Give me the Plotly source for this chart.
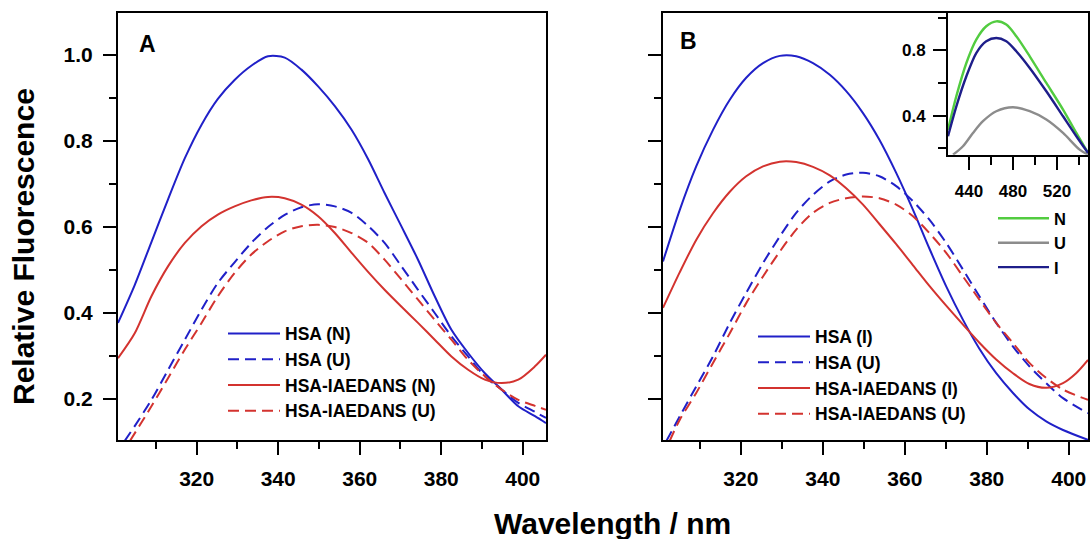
import plotly.graph_objects as go

W, H = 1090, 539
FONT = "Liberation Sans, Arial, sans-serif"

# ---------------- data ----------------
# Panel A
wl_A = [300.7, 304.8, 308.9, 313.0, 317.1, 321.2, 325.2, 329.3, 333.4, 337.5, 341.6, 345.7, 349.8,
        353.9, 358.0, 362.1, 366.1, 370.2, 374.3, 378.4, 382.5, 386.6, 390.7, 394.8, 398.9, 403.0, 405.7]
hsa_N = [0.377, 0.465, 0.565, 0.665, 0.760, 0.838, 0.898, 0.942, 0.975, 0.997, 0.994, 0.966, 0.927,
         0.881, 0.826, 0.757, 0.679, 0.602, 0.524, 0.439, 0.361, 0.307, 0.260, 0.222, 0.183, 0.160, 0.144]
iaedans_N = [0.295, 0.353, 0.439, 0.509, 0.563, 0.602, 0.629, 0.648, 0.662, 0.670, 0.667, 0.652, 0.625,
             0.586, 0.540, 0.495, 0.454, 0.415, 0.377, 0.338, 0.299, 0.268, 0.245, 0.237, 0.245, 0.276, 0.303]
wl_A_hsaU = [302.3, 304.8, 308.9, 313.0, 317.1, 321.2, 325.2, 329.3, 333.4, 337.5, 341.6, 345.7, 349.8,
             353.9, 358.0, 362.1, 366.1, 370.2, 374.3, 378.4, 382.5, 386.6, 390.7, 394.8, 398.9, 403.0, 405.7]
hsa_U_A = [0.102, 0.137, 0.198, 0.268, 0.338, 0.408, 0.470, 0.518, 0.563, 0.600, 0.628, 0.646, 0.653,
           0.648, 0.633, 0.602, 0.563, 0.509, 0.454, 0.400, 0.346, 0.299, 0.253, 0.222, 0.191, 0.170, 0.156]
wl_A_iaeU = [303.6, 308.9, 313.0, 317.1, 321.2, 325.2, 329.3, 333.4, 337.5, 341.6, 345.7, 349.8,
             353.9, 358.0, 362.1, 366.1, 370.2, 374.3, 378.4, 382.5, 386.6, 390.7, 394.8, 398.9, 403.0, 405.7]
iaedans_U_A = [0.102, 0.183, 0.249, 0.315, 0.377, 0.439, 0.493, 0.536, 0.567, 0.590, 0.602, 0.605,
               0.600, 0.586, 0.563, 0.524, 0.478, 0.431, 0.384, 0.338, 0.291, 0.253, 0.222, 0.198, 0.184, 0.175]

# Panel B
wl_B = [301.0, 305.1, 309.1, 313.2, 317.3, 321.3, 325.4, 329.5, 333.5, 337.6, 341.7, 345.7, 349.8,
        353.8, 357.9, 362.0, 366.0, 370.1, 374.2, 378.2, 382.3, 386.4, 390.4, 394.5, 398.6, 404.7]
hsa_I = [0.520, 0.640, 0.741, 0.826, 0.896, 0.947, 0.981, 0.998, 0.997, 0.981, 0.954, 0.916, 0.865,
         0.803, 0.726, 0.640, 0.550, 0.462, 0.384, 0.317, 0.260, 0.214, 0.176, 0.148, 0.128, 0.105]
wl_B_iaeI = [301.0, 305.1, 309.1, 313.2, 317.3, 321.3, 325.4, 329.5, 333.5, 337.6, 341.7, 345.7, 349.8,
             353.8, 357.9, 362.0, 366.0, 370.1, 374.2, 378.2, 382.3, 386.4, 390.4, 394.5, 398.6, 401.8, 404.7]
iaedans_I = [0.412, 0.495, 0.570, 0.632, 0.682, 0.718, 0.741, 0.752, 0.751, 0.740, 0.720, 0.690, 0.652,
             0.607, 0.560, 0.511, 0.463, 0.417, 0.373, 0.331, 0.292, 0.260, 0.235, 0.226, 0.237, 0.260, 0.291]
wl_B_hsaU = [301.8, 305.1, 309.1, 313.2, 317.3, 321.3, 325.4, 329.5, 333.5, 337.6, 341.7, 345.7, 349.8,
             353.8, 357.9, 362.0, 366.0, 370.1, 374.2, 378.2, 382.3, 386.4, 390.4, 394.5, 398.6, 404.7]
hsa_U_B = [0.102, 0.160, 0.229, 0.299, 0.377, 0.447, 0.516, 0.578, 0.633, 0.675, 0.706, 0.722, 0.726,
           0.718, 0.695, 0.660, 0.617, 0.563, 0.501, 0.439, 0.377, 0.322, 0.276, 0.237, 0.202, 0.167]
wl_B_iaeU = [302.6, 305.1, 309.1, 313.2, 317.3, 321.3, 325.4, 329.5, 333.5, 337.6, 341.7, 345.7, 349.8,
             353.8, 357.9, 362.0, 366.0, 370.1, 374.2, 378.2, 382.3, 386.4, 390.4, 394.5, 398.6, 404.7]
iaedans_U_B = [0.102, 0.152, 0.214, 0.284, 0.353, 0.423, 0.485, 0.543, 0.594, 0.633, 0.656, 0.667, 0.671,
               0.667, 0.652, 0.625, 0.586, 0.540, 0.485, 0.431, 0.377, 0.330, 0.284, 0.249, 0.222, 0.198]

# Inset (IAEDANS emission)
wl_in = [420.9, 428.5, 437.6, 446.6, 455.7, 464.8, 473.9, 483.0, 495.2, 510.3, 525.5, 537.6, 548.2]
in_N = [0.314, 0.519, 0.722, 0.865, 0.947, 0.977, 0.957, 0.886, 0.763, 0.600, 0.437, 0.294, 0.172]
in_I = [0.274, 0.457, 0.641, 0.783, 0.855, 0.875, 0.855, 0.794, 0.692, 0.549, 0.396, 0.274, 0.172]
wl_in_U = [425.5, 434.5, 443.6, 452.7, 464.8, 480.0, 495.2, 510.3, 525.5, 540.6, 548.2]
in_U = [0.161, 0.213, 0.294, 0.366, 0.427, 0.451, 0.427, 0.376, 0.294, 0.192, 0.161]

BLUE = "#2020c8"
RED = "#d3332f"
GREEN = "#52cc40"
GRAY = "#8c8c8c"
NAVY = "#1e1e8a"


def px(x):
    return x / W


def py(y):
    return 1 - y / H


fig = go.Figure()


def add(x, y, name, color, dash, xa, ya, leg, width=2):
    fig.add_trace(go.Scatter(
        x=x, y=y, name=name, mode="lines",
        line=dict(color=color, width=width, dash=dash, shape="spline", smoothing=0.8),
        xaxis=xa, yaxis=ya, legend=leg, hoverinfo="skip"))


DASH = "11px,6px"
add(wl_A, hsa_N, "HSA (N)", BLUE, "solid", "x", "y", "legend")
add(wl_A_hsaU, hsa_U_A, "HSA (U)", BLUE, DASH, "x", "y", "legend")
add(wl_A, iaedans_N, "HSA-IAEDANS (N)", RED, "solid", "x", "y", "legend")
add(wl_A_iaeU, iaedans_U_A, "HSA-IAEDANS (U)", RED, DASH, "x", "y", "legend")

add(wl_B, hsa_I, "HSA (I)", BLUE, "solid", "x2", "y2", "legend2")
add(wl_B_hsaU, hsa_U_B, "HSA (U)", BLUE, DASH, "x2", "y2", "legend2")
add(wl_B_iaeI, iaedans_I, "HSA-IAEDANS (I)", RED, "solid", "x2", "y2", "legend2")
add(wl_B_iaeU, iaedans_U_B, "HSA-IAEDANS (U)", RED, DASH, "x2", "y2", "legend2")

add(wl_in, in_N, "N", GREEN, "solid", "x3", "y3", "legend3", width=2.4)
add(wl_in_U, in_U, "U", GRAY, "solid", "x3", "y3", "legend3", width=2.4)
add(wl_in, in_I, "I", NAVY, "solid", "x3", "y3", "legend3", width=2.4)


def axis(**kw):
    d = dict(showline=True, linecolor="black", linewidth=2, mirror=True,
             ticks="outside", tickcolor="black", tickwidth=2, ticklen=13,
             showgrid=False, zeroline=False,
             tickfont=dict(family=FONT, size=21, weight="bold", color="black"))
    d.update(kw)
    return d


YR = [0.1047, 1.0977]
minor_x = dict(ticks="outside", ticklen=7, tickwidth=2, tickcolor="black", dtick=10, showgrid=False)
minor_y = dict(ticks="outside", ticklen=7, tickwidth=2, tickcolor="black", dtick=0.1, showgrid=False)
LEGFONT = dict(family=FONT, size=17.5, weight="bold", color="black")

fig.update_layout(
    width=W, height=H,
    margin=dict(l=0, r=0, t=0, b=0),
    paper_bgcolor="white", plot_bgcolor="white",
    font=dict(family=FONT, color="black"),
    showlegend=True,
    xaxis=axis(domain=[px(118), px(546)], range=[300.7, 405.7], anchor="y",
               tick0=0, dtick=20, minor=minor_x, ticklabelstandoff=6),
    yaxis=axis(domain=[py(440), py(13)], range=YR, anchor="x",
               tick0=0, dtick=0.2, tickformat=".1f", minor=minor_y, ticklabelstandoff=6),
    xaxis2=axis(domain=[px(663), px(1088)], range=[301.0, 404.7], anchor="y2",
                tick0=0, dtick=20, minor=minor_x, ticklabelstandoff=6),
    yaxis2=axis(domain=[py(440), py(13)], range=YR, anchor="x2",
                tick0=0, dtick=0.2, minor=minor_y, showticklabels=False),
    xaxis3=axis(domain=[px(948), px(1088)], range=[420.9, 548.2], anchor="y3",
                tick0=0, dtick=40, ticklen=13,
                minor=dict(ticks="outside", ticklen=8, tickwidth=2, tickcolor="black", dtick=20, showgrid=False),
                tickfont=dict(family=FONT, size=17, weight="bold", color="black"), ticklabelstandoff=7),
    yaxis3=axis(domain=[py(154.7), py(13)], range=[0.161, 1.028], anchor="x3",
                tick0=0, dtick=0.4, tickformat=".1f", ticklen=13,
                minor=dict(ticks="outside", ticklen=8, tickwidth=2, tickcolor="black", dtick=0.2, showgrid=False),
                tickfont=dict(family=FONT, size=17, weight="bold", color="black"), ticklabelstandoff=4),
    legend=dict(x=px(223), y=py(315.5), xanchor="left", yanchor="top", bgcolor="rgba(0,0,0,0)",
                font=LEGFONT, itemwidth=52, tracegroupgap=0),
    legend2=dict(x=px(753), y=py(318.5), xanchor="left", yanchor="top", bgcolor="rgba(0,0,0,0)",
                 font=LEGFONT, itemwidth=52, tracegroupgap=0),
    legend3=dict(x=px(993), y=py(201), xanchor="left", yanchor="top", bgcolor="rgba(0,0,0,0)",
                 font=dict(family=FONT, size=16.5, weight="bold", color="black"), itemwidth=51,
                 tracegroupgap=0),
    annotations=[
        dict(text="A", x=px(147.5), y=py(44), xref="paper", yref="paper", showarrow=False,
             xanchor="center", yanchor="middle", font=dict(family=FONT, size=23, weight="bold")),
        dict(text="B", x=px(688), y=py(41.5), xref="paper", yref="paper", showarrow=False,
             xanchor="center", yanchor="middle", font=dict(family=FONT, size=23, weight="bold")),
        dict(text="Relative Fluorescence", x=px(23), y=py(247), xref="paper", yref="paper",
             showarrow=False, textangle=-90, xanchor="center", yanchor="middle",
             font=dict(family=FONT, size=30, weight="bold")),
        dict(text="Wavelength / nm", x=px(612), y=py(523), xref="paper", yref="paper",
             showarrow=False, xanchor="center", yanchor="middle",
             font=dict(family=FONT, size=30, weight="bold")),
    ],
)

fig.write_html("out.html")
